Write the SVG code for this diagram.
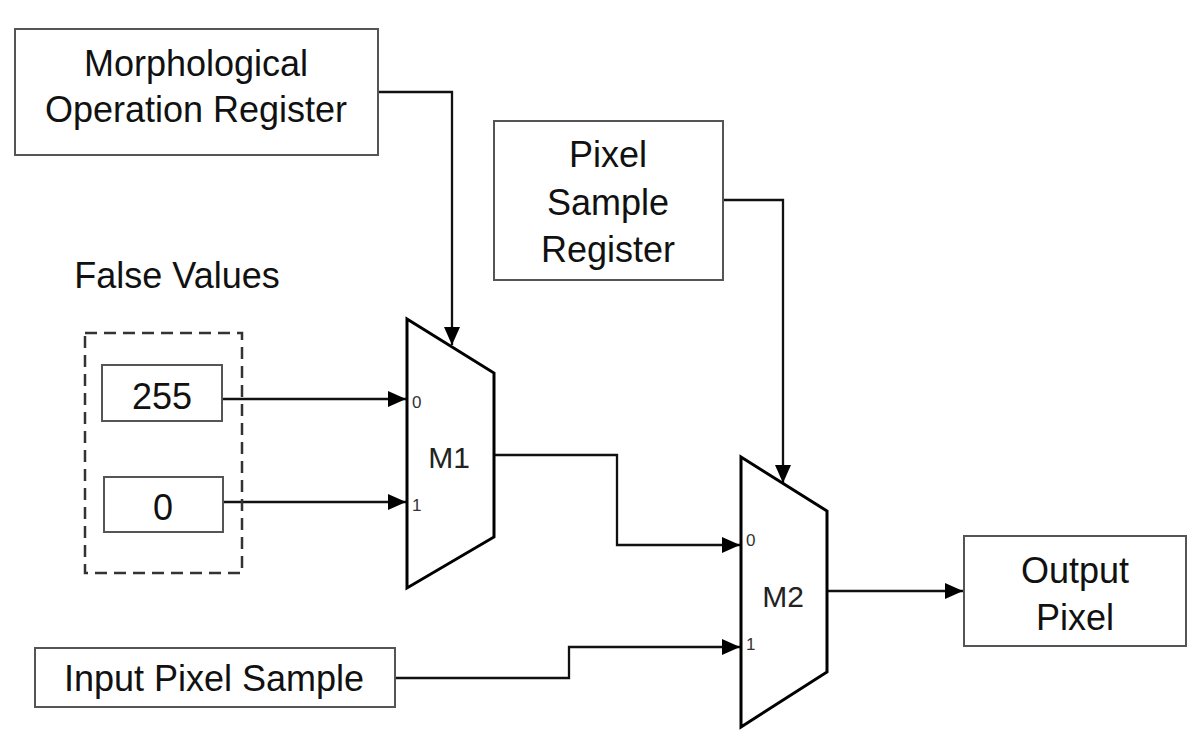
<svg xmlns="http://www.w3.org/2000/svg" width="1200" height="742" viewBox="0 0 1200 742">
<style>
.box{fill:#fff;stroke:#555;stroke-width:2}
.mux{fill:#fff;stroke:#000;stroke-width:3;stroke-linejoin:miter}
.t{font-family:"Liberation Sans",Arial,sans-serif;font-size:36px;fill:#111;text-anchor:middle;dominant-baseline:central}
.m{font-family:"Liberation Sans",Arial,sans-serif;font-size:30px;fill:#222;text-anchor:middle;dominant-baseline:central}
.s{font-family:"Liberation Sans",Arial,sans-serif;font-size:17px;fill:#333;dominant-baseline:central}
.w{fill:none;stroke:#111;stroke-width:2.3}
</style>
<defs>
<marker id="arr" markerUnits="userSpaceOnUse" markerWidth="19" markerHeight="17" refX="18" refY="8" orient="auto">
<path d="M0,0 L18,8 L0,16 z" fill="#000"/>
</marker>
</defs>
<g id="connectors">
<polyline class="w" points="378,92 452,92 452,345" marker-end="url(#arr)"/>
<polyline class="w" points="723,200 783,200 783,483" marker-end="url(#arr)"/>
<polyline class="w" points="222,399 406,399" marker-end="url(#arr)"/>
<polyline class="w" points="223,502 406,502" marker-end="url(#arr)"/>
<polyline class="w" points="494,455 617,455 617,545 740,545" marker-end="url(#arr)"/>
<polyline class="w" points="395,678 569,678 569,647 740,647" marker-end="url(#arr)"/>
<polyline class="w" points="827,591 963,591" marker-end="url(#arr)"/>
</g>
<g id="morph">
<rect class="box" x="15" y="29" width="363" height="126"/>
<text class="t" x="196" y="63">Morphological</text>
<text class="t" x="196" y="109">Operation Register</text>
</g>
<g id="pixelreg">
<rect class="box" x="494" y="121" width="229" height="159"/>
<text class="t" x="608" y="154">Pixel</text>
<text class="t" x="608" y="202">Sample</text>
<text class="t" x="608" y="249">Register</text>
</g>
<g id="falsevalues">
<text class="t" x="177" y="275">False Values</text>
<rect x="85" y="333" width="157" height="240" fill="none" stroke="#333" stroke-width="2.5" stroke-dasharray="12,7"/>
</g>
<g id="v255">
<rect class="box" x="102" y="365" width="120" height="56"/>
<text class="t" x="162" y="396">255</text>
</g>
<g id="v0">
<rect class="box" x="104" y="477" width="119" height="55"/>
<text class="t" x="163" y="507">0</text>
</g>
<g id="m1">
<polygon class="mux" points="407,319 494,373 494,537 407,588"/>
<text class="m" x="449" y="457">M1</text>
<text class="s" x="412" y="402">0</text>
<text class="s" x="412" y="505">1</text>
</g>
<g id="m2">
<polygon class="mux" points="741,457 827,511 827,672 741,727"/>
<text class="m" x="783" y="596">M2</text>
<text class="s" x="746" y="540">0</text>
<text class="s" x="746" y="644">1</text>
</g>
<g id="input">
<rect class="box" x="35" y="648" width="360" height="59"/>
<text class="t" x="214" y="678">Input Pixel Sample</text>
</g>
<g id="output">
<rect class="box" x="964" y="536" width="222" height="110"/>
<text class="t" x="1075" y="570">Output</text>
<text class="t" x="1075" y="617">Pixel</text>
</g>
</svg>
